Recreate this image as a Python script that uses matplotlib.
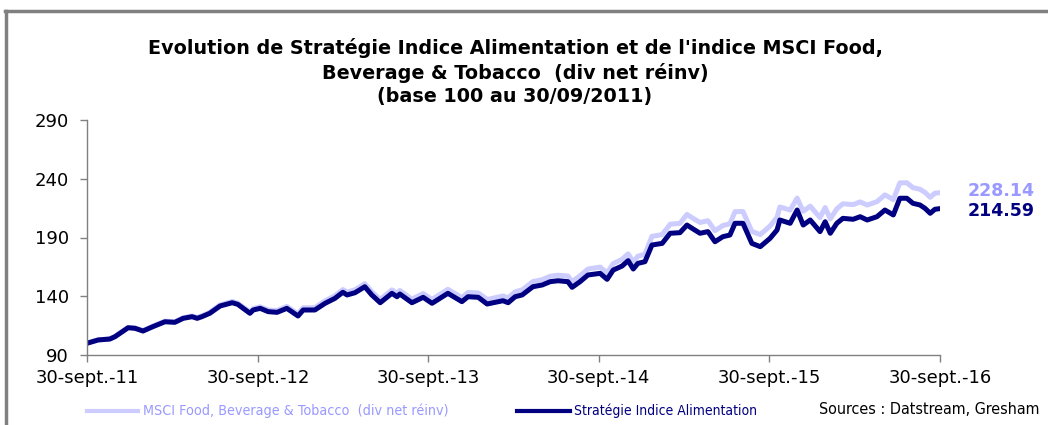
import matplotlib
matplotlib.use("Agg")
import matplotlib.pyplot as plt
from matplotlib.lines import Line2D
import numpy as np

dates = ["2011-09-30", "2011-10-24", "2011-11-18", "2011-11-29", "2011-12-27", "2012-01-11",
         "2012-01-28", "2012-02-18", "2012-03-15", "2012-04-05", "2012-04-23", "2012-05-12",
         "2012-05-23", "2012-06-02", "2012-06-19", "2012-07-11", "2012-08-06", "2012-08-18",
         "2012-09-13", "2012-09-20", "2012-10-05", "2012-10-22", "2012-11-10", "2012-12-01",
         "2012-12-25", "2013-01-05", "2013-01-30", "2013-02-21", "2013-03-14", "2013-03-31",
         "2013-04-09", "2013-04-26", "2013-05-17", "2013-06-01", "2013-06-19", "2013-07-14",
         "2013-07-25", "2013-07-31", "2013-08-26", "2013-09-19", "2013-10-08", "2013-11-11",
         "2013-12-11", "2013-12-24", "2014-01-15", "2014-02-03", "2014-03-09", "2014-03-20",
         "2014-04-04", "2014-04-19", "2014-05-12", "2014-06-01", "2014-06-18", "2014-07-05",
         "2014-07-26", "2014-08-04", "2014-08-21", "2014-09-07", "2014-10-03", "2014-10-18",
         "2014-10-31", "2014-11-19", "2014-12-02", "2014-12-13", "2014-12-23", "2015-01-07",
         "2015-01-22", "2015-02-13", "2015-03-02", "2015-03-23", "2015-04-07", "2015-04-18",
         "2015-05-05", "2015-05-22", "2015-06-06", "2015-06-23", "2015-07-08", "2015-07-19",
         "2015-08-05", "2015-08-24", "2015-09-11", "2015-10-02", "2015-10-17", "2015-10-23",
         "2015-11-14", "2015-11-29", "2015-12-12", "2015-12-27", "2016-01-17", "2016-01-28",
         "2016-02-08", "2016-02-22", "2016-03-06", "2016-03-28", "2016-04-12", "2016-04-27",
         "2016-05-18", "2016-06-04", "2016-06-22", "2016-07-06", "2016-07-21", "2016-08-03",
         "2016-08-18", "2016-08-29", "2016-09-09", "2016-09-19", "2016-09-30"]

strategie = [100.0, 102.8, 103.6, 105.6, 113.2, 112.7, 110.4, 114.1, 118.3, 117.8,
             121.2, 122.6, 121.2, 122.6, 125.5, 131.7, 134.5, 133.1, 125.5, 128.3,
             129.7, 126.9, 126.3, 129.7, 123.2, 128.3, 128.3, 134.0, 138.2, 143.4,
             141.1, 143.0, 148.1, 141.1, 134.5, 142.5, 139.6, 141.9, 134.5, 139.1,
             134.0, 142.5, 135.4, 139.6, 139.1, 133.4, 136.2, 134.5, 139.6, 141.1,
             148.1, 149.6, 152.4, 153.2, 152.4, 147.6, 152.4, 158.1, 159.5, 154.4,
             162.3, 165.7, 170.3, 163.2, 168.0, 169.4, 183.6, 185.0, 193.6, 194.1,
             200.6, 197.8, 193.6, 195.0, 186.4, 190.7, 192.1, 202.1, 202.1, 185.0,
             182.2, 189.3, 196.4, 204.9, 202.1, 213.4, 200.6, 204.9, 195.0, 203.4,
             193.6, 202.1, 206.3, 205.5, 207.7, 204.9, 207.7, 213.4, 209.2, 223.4,
             223.4, 219.1, 217.7, 214.8, 210.6, 214.0, 214.59]

msci = [100.0, 102.9, 103.7, 105.8, 113.5, 113.0, 110.8, 114.5, 118.8, 118.3,
        121.7, 123.2, 121.9, 123.3, 126.3, 132.6, 135.5, 134.1, 126.6, 129.5,
        131.0, 128.3, 127.8, 131.3, 125.0, 130.2, 130.3, 136.1, 140.4, 145.7,
        143.5, 145.5, 150.7, 143.8, 137.3, 145.4, 142.6, 144.9, 137.6, 142.3,
        137.3, 145.9, 138.9, 143.2, 142.8, 137.2, 140.2, 138.6, 143.8, 145.4,
        152.5, 154.1, 157.0, 157.9, 157.2, 152.5, 157.4, 163.2, 164.8, 159.8,
        167.8, 171.4, 176.1, 169.2, 174.1, 175.7, 191.0, 192.5, 201.3, 202.0,
        209.6, 206.8, 202.8, 204.3, 195.8, 200.2, 201.7, 212.0, 212.1, 195.2,
        192.5, 199.8, 207.2, 216.0, 213.4, 223.5, 212.3, 216.7, 207.0, 215.5,
        205.8, 214.4, 218.7, 218.0, 220.3, 217.6, 220.5, 226.3, 222.2, 236.5,
        236.6, 232.4, 231.1, 228.3, 224.2, 227.7, 228.14]

tick_dates = ["2011-09-30", "2012-09-30", "2013-09-30", "2014-09-30", "2015-09-30", "2016-09-30"]
tick_labels = ["30-sept.-11", "30-sept.-12", "30-sept.-13", "30-sept.-14", "30-sept.-15", "30-sept.-16"]
y_ticks = [90, 140, 190, 240, 290]

title = ("Evolution de Stratégie Indice Alimentation et de l'indice MSCI Food,\n"
         "Beverage & Tobacco  (div net réinv)\n(base 100 au 30/09/2011)")
label_msci = "MSCI Food, Beverage & Tobacco  (div net réinv)"
label_strat = "Stratégie Indice Alimentation"
source = "Sources : Datstream, Gresham"

DARK = "#000080"
LIGHT = "#CCCCFF"
LIGHT_TXT = "#9999FF"
GRAY = "#808080"

x = np.array(dates, dtype="datetime64[D]")
xt = np.array(tick_dates, dtype="datetime64[D]")

fig = plt.figure(figsize=(10.48, 4.25), dpi=100)
ax = fig.add_axes([87/1048, 1-355/425, (940-87)/1048, (355-120)/425])

ax.plot(x, msci, color=LIGHT, lw=3.6, solid_joinstyle="round", solid_capstyle="round")
ax.plot(x, strategie, color=DARK, lw=3.6, solid_joinstyle="round", solid_capstyle="round")

ax.set_ylim(90, 290)
ax.set_xlim(xt[0], xt[-1])
ax.set_yticks(y_ticks)
ax.set_yticklabels([str(v) for v in y_ticks])
ax.set_xticks(xt)
ax.set_xticklabels(tick_labels)
for s in ["top", "right"]:
    ax.spines[s].set_visible(False)
for s in ["left", "bottom"]:
    ax.spines[s].set_color(GRAY)
    ax.spines[s].set_linewidth(1.0)
ax.tick_params(axis="both", colors=GRAY, length=5, width=1.0, labelcolor="black",
               labelsize=13)
ax.tick_params(axis="x", pad=5)
ax.tick_params(axis="y", pad=8)

fig.text(515/1048, 1-72/425, title, ha="center", va="center", fontsize=13.8,
         fontweight="bold", linespacing=1.32)

ax.annotate(f"{msci[-1]:.2f}", xy=(x[-1], msci[-1]), xytext=(20, 1), textcoords="offset points",
            color=LIGHT_TXT, fontsize=12.5, fontweight="bold", va="center", ha="left")
ax.annotate(f"{strategie[-1]:.2f}", xy=(x[-1], strategie[-1]), xytext=(20, -2), textcoords="offset points",
            color=DARK, fontsize=12.5, fontweight="bold", va="center", ha="left")

# legend
yl = 1 - 411/425
fig.add_artist(Line2D([87/1048, 138/1048], [yl, yl], color=LIGHT, lw=3, transform=fig.transFigure))
fig.text(143/1048, yl, label_msci, color=LIGHT_TXT, fontsize=10.3, va="center", ha="left",
         family="DejaVu Sans", fontstretch="condensed")
fig.add_artist(Line2D([517/1048, 570/1048], [yl, yl], color=DARK, lw=3, transform=fig.transFigure))
fig.text(574/1048, yl, label_strat, color=DARK, fontsize=10.0, va="center", ha="left",
         family="DejaVu Sans", fontstretch="condensed")
fig.text(819/1048, 1 - 409/425, source, color="black", fontsize=11.5, va="center", ha="left",
         family="DejaVu Sans", fontstretch="condensed")

# frame
fig.add_artist(Line2D([6/1048, 6/1048], [0, 1 - 11/425], color=GRAY, lw=2.5, transform=fig.transFigure))
fig.add_artist(Line2D([5/1048, 1], [1 - 11/425, 1 - 11/425], color=GRAY, lw=2.5, transform=fig.transFigure))

fig.savefig("out.png", dpi=100)
